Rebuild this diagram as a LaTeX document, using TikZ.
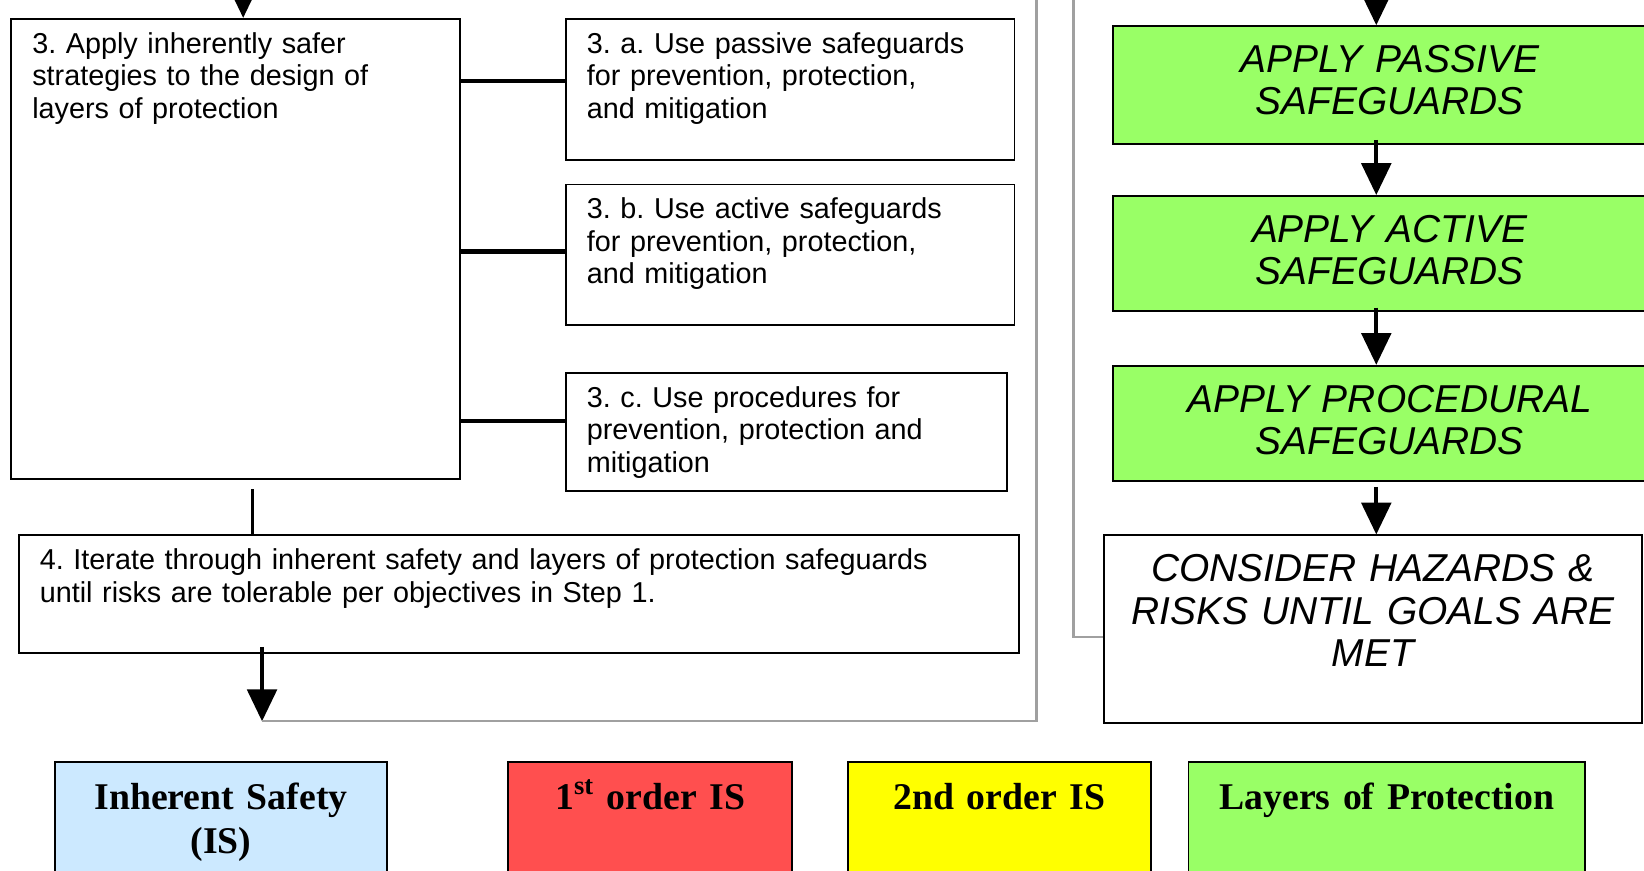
\documentclass[tikz,border=0pt]{standalone}
\usepackage{fontspec}
\setmainfont{Liberation Sans}
\newfontfamily\legendfont{Liberation Serif}
\usetikzlibrary{arrows.meta}
\frenchspacing

\definecolor{lopgreen}{HTML}{99FF66}
\definecolor{isblue}{HTML}{CCE9FF}
\definecolor{firstred}{HTML}{FF4F4F}
\definecolor{secondyellow}{HTML}{FFFF00}
\definecolor{returngray}{HTML}{A0A0A0}

\tikzset{
  stepbox/.style 2 args={draw, line width=0.8pt, anchor=north west, align=left,
    font=\fontsize{12.2}{13.8}\selectfont, text width=#1, inner xsep=8.9pt,
    inner ysep=5pt, text height=9.5pt, text depth=#2},
  safebox/.style 2 args={draw, line width=0.8pt, anchor=north west, align=center,
    font=\fontsize{16.5}{18}\selectfont\itshape, text width=#1, inner xsep=5pt,
    inner ysep=5pt, text height=14.6pt, text depth=#2},
  keybox/.style 2 args={draw, line width=0.8pt, fill=#1, anchor=north west, align=center,
    font=\legendfont\bfseries\fontsize{16}{18.7}\selectfont, text width=#2,
    inner xsep=5pt, inner ysep=5pt, text height=15pt, text depth=30pt},
  branch/.style={line width=1.8pt},
  flow/.style={line width=1.7pt, -{Triangle[width=12.5pt,length=13.5pt]}},
  returnline/.style={draw=returngray, line width=1pt}
}

\begin{document}
\begin{tikzpicture}[x=1pt, y=-1pt]
\useasboundingbox (0,0) rectangle (697,369);

% inherent safety column
\node[stepbox={172.4pt}{175.6pt}] at (4.4,7.6) (step3) {3. Apply inherently safer\\strategies to the design of\\layers of protection};
\node[stepbox={172.4pt}{40.5pt}] at (239.5,7.6) (step3a) {3. a. Use passive safeguards\\for prevention, protection,\\and mitigation};
\node[stepbox={172.4pt}{40.1pt}] at (239.5,77.8) (step3b) {3. b. Use active safeguards\\for prevention, protection,\\and mitigation};
\node[stepbox={169.3pt}{30.3pt}] at (239.5,157.8) (step3c) {3. c. Use procedures for\\prevention, protection and\\mitigation};
\node[stepbox={406.1pt}{30.3pt}] at (7.6,226.6) (step4) {4. Iterate through inherent safety and layers of protection safeguards\\until risks are tolerable per objectives in Step 1.};

\coordinate (intop) at (103.1,-14);
\coordinate (join) at (107.1,207.5);
\coordinate (back) at (111.1,305.8);
\coordinate (backtop) at (439.5,-5);

\draw[flow] (intop) -- (intop |- step3.north);
\draw[branch] ([yshift=3.8pt]step3a.west) -- ([yshift=3.8pt]step3a.west -| step3.east);
\draw[branch] ([yshift=1.4pt]step3b.west) -- ([yshift=1.4pt]step3b.west -| step3.east);
\draw[branch] ([yshift=4.5pt]step3c.west) -- ([yshift=4.5pt]step3c.west -| step3.east);
\draw[line width=1pt] (join) -- (join |- step4.north);
\draw[flow] ([yshift=3pt]back |- step4.south) -- (back);
\draw[returnline] (back) -| (backtop);

% layers of protection column
\node[safebox={224.6pt}{25.2pt}, fill=lopgreen] at (471.5,10.7) (passive) {APPLY PASSIVE\\SAFEGUARDS};
\node[safebox={224.6pt}{24.3pt}, fill=lopgreen] at (471.5,82.7) (active) {APPLY ACTIVE\\SAFEGUARDS};
\node[safebox={224.6pt}{24.3pt}, fill=lopgreen] at (471.5,154.7) (procedural) {APPLY PROCEDURAL\\SAFEGUARDS};
\node[safebox={218.4pt}{54.9pt}] at (467.5,226.6) (consider) {CONSIDER HAZARDS \&\\RISKS UNTIL GOALS ARE\\MET};

\coordinate (lopin) at (583.5,-14);
\coordinate (looptop) at (455.1,-5);

\draw[flow] (lopin) -- (lopin |- passive.north);
\draw[flow] ([yshift=2pt]passive.south -| lopin) -- (active.north -| lopin);
\draw[flow] ([yshift=2pt]active.south -| lopin) -- (procedural.north -| lopin);
\draw[flow] ([yshift=-2pt]procedural.south -| lopin) -- (consider.north -| lopin);
\draw[returnline] (looptop) |- ([yshift=-3.4pt]consider.west);

% legend
\node[keybox={isblue}{130.4pt}] at (23.1,322.7) (keyis) {Inherent Safety\\(IS)};
\node[keybox={firstred}{110.4pt}] at (215.1,322.7) (keyfirst) {1\textsuperscript{st} order IS};
\node[keybox={secondyellow}{118.4pt}] at (359.1,322.7) (keysecond) {2nd order IS};
\node[keybox={lopgreen}{158pt}] at (503.5,322.7) (keylop) {Layers of Protection};
\end{tikzpicture}
\end{document}
